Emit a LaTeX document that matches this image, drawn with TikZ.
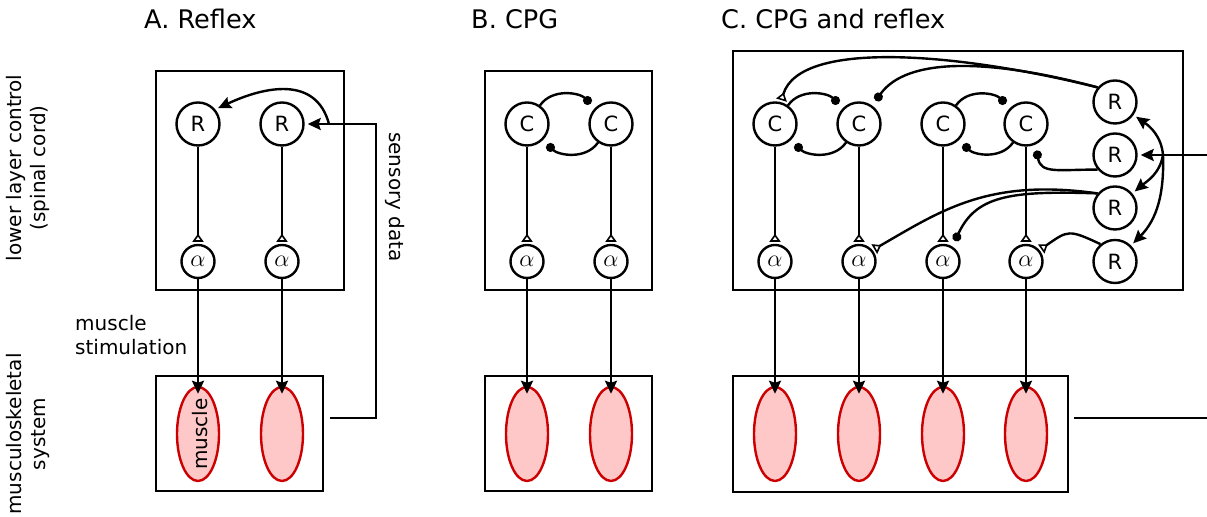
\documentclass[tikz,border=0pt]{standalone}
\usepackage{fontspec}
\setmainfont{DejaVu Sans}
\usepackage{tikz}
\usetikzlibrary{arrows.meta, shapes.geometric}

\definecolor{muspink}{HTML}{FFC8C8}
\definecolor{musred}{HTML}{CC0000}

\begin{document}
\begin{tikzpicture}[
    x=0.5pt, y=0.5pt, line width=1.2pt,
    neuron/.style={circle, draw, minimum size=21.5pt, inner sep=0pt, font=\fontsize{10.5}{12}\selectfont},
    motor/.style={circle, draw, minimum size=16.5pt, inner sep=0pt, font=\fontsize{12}{14}\selectfont},
    muscle/.style={ellipse, draw=musred, fill=muspink, minimum width=21pt, minimum height=47pt, inner sep=0pt},
    title/.style={anchor=base west, inner sep=0pt, font=\fontsize{12.8}{15}\selectfont},
    side/.style={align=center, font=\fontsize{10}{12}\selectfont},
    exc/.style={-{Triangle[open, reversed, length=4pt, width=5.5pt, line width=0.8pt]}, shorten >=1pt},
    inh/.style={-{Circle[length=4.5pt]}, shorten >=3pt},
    stim/.style={-{Stealth[length=6.5pt, width=6pt, inset=1pt]}, shorten >=-4pt},
    sense/.style={-{Stealth[length=6.5pt, width=6pt, inset=1pt]}, shorten >=1.5pt}
]
\useasboundingbox (0,0) rectangle (1207,517);

\node[title] (ttlA) at (143,488) {A. Reflex};
\node[title] (ttlB) at (470,488) {B. CPG};
\node[title] (ttlC) at (720,488) {C. CPG and reflex};
\node[side, rotate=90] (lowlab) at (28,349) {lower layer control\\(spinal cord)};
\node[side, rotate=90] (muslab) at (28,83) {musculoskeletal\\system};
\node[side, align=left, anchor=north west, inner sep=0pt] (stimlab) at (74,203) {muscle\\stimulation};
\node[side, rotate=-90] (senslab) at (395,320) {sensory data};

\draw (156,227) rectangle (344,446);
\draw (156,26) rectangle (323,141);
\node[neuron] (rA1) at (198,393) {R};
\node[neuron] (rA2) at (282,393) {R};
\node[motor] (aA1) at (198,255.5) {$\alpha$};
\node[motor] (aA2) at (282,255.5) {$\alpha$};
\node[muscle] (mA1) at (198,83) {};
\node[muscle] (mA2) at (282,83) {};
\node[rotate=90] (mlab) at (200,83) {muscle};
\draw[exc] (rA1) -- (aA1);
\draw[exc] (rA2) -- (aA2);
\draw[stim] (aA1) -- (mA1);
\draw[stim] (aA2) -- (mA2);
\coordinate (sA) at (330,99);
\coordinate (kA) at (376,393);
\coordinate (bA) at (329,393);
\draw[sense] (sA) -| (kA) -- (rA2);
\draw[sense] (bA) .. controls +(105:50) and +(25:55) .. (rA1.40);

\draw (485,227) rectangle (652,446);
\draw (485,26) rectangle (652,141);
\node[neuron] (cB1) at (527,393) {C};
\node[neuron] (cB2) at (611,393) {C};
\node[motor] (aB1) at (527,255.5) {$\alpha$};
\node[motor] (aB2) at (611,255.5) {$\alpha$};
\node[muscle] (mB1) at (527,83) {};
\node[muscle] (mB2) at (611,83) {};
\draw[inh] (cB1) to[out=55, in=135] (cB2);
\draw[inh] (cB2) to[out=-125, in=-45] (cB1);
\draw[exc] (cB1) -- (aB1);
\draw[exc] (cB2) -- (aB2);
\draw[stim] (aB1) -- (mB1);
\draw[stim] (aB2) -- (mB2);

\draw (733,227) rectangle (1183,466);
\draw (733,25) rectangle (1068,141);
\node[neuron] (cC1) at (775,393) {C};
\node[neuron] (cC2) at (859,393) {C};
\node[neuron] (cC3) at (943,393) {C};
\node[neuron] (cC4) at (1026,393) {C};
\node[motor] (aC1) at (775,255.5) {$\alpha$};
\node[motor] (aC2) at (859,255.5) {$\alpha$};
\node[motor] (aC3) at (943,255.5) {$\alpha$};
\node[motor] (aC4) at (1026,255.5) {$\alpha$};
\node[neuron] (rC1) at (1115,415) {R};
\node[neuron] (rC2) at (1115,362) {R};
\node[neuron] (rC3) at (1115,309) {R};
\node[neuron] (rC4) at (1115,255.5) {R};
\node[muscle] (mC1) at (775,83) {};
\node[muscle] (mC2) at (859,83) {};
\node[muscle] (mC3) at (943,83) {};
\node[muscle] (mC4) at (1026,83) {};
\draw[inh] (cC1) to[out=55, in=135] (cC2);
\draw[inh] (cC2) to[out=-125, in=-45] (cC1);
\draw[inh] (cC3) to[out=55, in=135] (cC4);
\draw[inh] (cC4) to[out=-125, in=-45] (cC3);
\draw[exc] (cC1) -- (aC1);
\draw[exc] (cC2) -- (aC2);
\draw[exc] (cC3) -- (aC3);
\draw[exc] (cC4) -- (aC4);
\draw[stim] (aC1) -- (mC1);
\draw[stim] (aC2) -- (mC2);
\draw[stim] (aC3) -- (mC3);
\draw[stim] (aC4) -- (mC4);
\draw[exc] (rC1.140) .. controls +(166:142) and +(73:66) .. (cC1.75);
\draw[inh] (rC1.140) .. controls +(165:110) and +(55:60) .. (cC2.54);
\draw[inh] (rC2.-140) .. controls +(180:40) and +(-80:30) .. (cC4.-65);
\draw[exc] (rC3.140) .. controls +(172:110) and +(30:80) .. (aC2.40);
\draw[inh] (rC3.140) .. controls +(178:90) and +(65:55) .. (aC3.58);
\draw[exc] (rC4.130) .. controls +(155:35) and +(35:35) .. (aC4.40);
\coordinate (inC) at (1207,362);
\coordinate (bC) at (1163,362);
\draw[sense] (inC) -- (rC2);
\draw[sense] (bC) to[out=95, in=-35] (rC1);
\draw[sense] (bC) to[out=-100, in=40] (rC3);
\draw[sense] (bC) to[out=-88, in=45] (rC4);
\coordinate (sC) at (1074,99);
\coordinate (eC) at (1207,99);
\draw (sC) -- (eC);

\end{tikzpicture}
\end{document}
